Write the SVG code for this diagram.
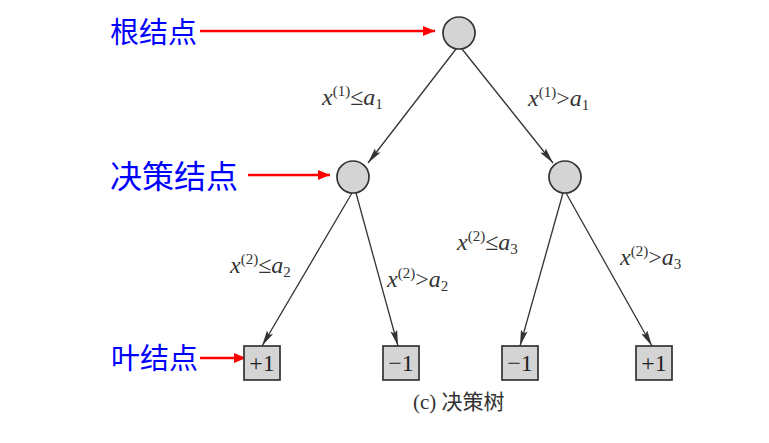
<svg xmlns="http://www.w3.org/2000/svg" width="769" height="443" viewBox="0 0 769 443">
<style>
.node{fill:#d4d4d4;stroke:#333;stroke-width:1.7}
.leaf{fill:#d4d4d4;stroke:#333;stroke-width:1.7}
.edge{stroke:#333;stroke-width:1.3;fill:none}
.red{stroke:#ff0000;stroke-width:2.5;fill:none}
.lab{font-family:"Liberation Serif","Times New Roman",serif;font-size:24px;fill:#333}
.it{font-style:italic}
.sup{font-size:15px}
.leaftxt{font-family:"Liberation Serif","Times New Roman",serif;font-size:24px;fill:#222;text-anchor:middle}
.blue{font-family:"Noto Sans CJK SC",sans-serif;font-size:29px;fill:#0000ff}
.cap{font-family:"Liberation Serif","Noto Sans CJK SC",serif;font-size:21px;fill:#333}
</style>
<defs>
<marker id="ah" viewBox="0 0 16 7" refX="16" refY="3.5" markerWidth="16" markerHeight="7" markerUnits="userSpaceOnUse" orient="auto">
<path d="M0,0 L16,3.5 L0,7 L3,3.5 Z" fill="#333"/>
</marker>
<marker id="rh" viewBox="0 0 12 10" refX="12" refY="5" markerWidth="12" markerHeight="10" markerUnits="userSpaceOnUse" orient="auto">
<path d="M0,0 L12,5 L0,10 Z" fill="#ff0000"/>
</marker>
</defs>
<rect width="769" height="443" fill="#ffffff"/>
<g id="connectors">
<line class="edge" x1="456" y1="49" x2="368" y2="163" marker-end="url(#ah)"/>
<line class="edge" x1="462" y1="49" x2="553" y2="163" marker-end="url(#ah)"/>
<line class="edge" x1="352" y1="193" x2="262" y2="346" marker-end="url(#ah)"/>
<line class="edge" x1="356" y1="193" x2="398" y2="346" marker-end="url(#ah)"/>
<line class="edge" x1="563" y1="193" x2="520" y2="346" marker-end="url(#ah)"/>
<line class="edge" x1="566" y1="193" x2="652" y2="346" marker-end="url(#ah)"/>
<line class="red" x1="200" y1="31" x2="435" y2="31" marker-end="url(#rh)"/>
<line class="red" x1="248" y1="175" x2="330" y2="175" marker-end="url(#rh)"/>
<line class="red" x1="200" y1="358" x2="246" y2="358" marker-end="url(#rh)"/>
</g>
<g id="labels">
<text class="lab" x="322" y="105"><tspan class="it">x</tspan><tspan class="sup" dy="-9">(1)</tspan><tspan dy="9">≤</tspan><tspan class="it">a</tspan><tspan class="sup" dy="4">1</tspan></text>
<text class="lab" x="528" y="106"><tspan class="it">x</tspan><tspan class="sup" dy="-9">(1)</tspan><tspan dy="9">&gt;</tspan><tspan class="it">a</tspan><tspan class="sup" dy="4">1</tspan></text>
<text class="lab" x="230" y="273"><tspan class="it">x</tspan><tspan class="sup" dy="-9">(2)</tspan><tspan dy="9">≤</tspan><tspan class="it">a</tspan><tspan class="sup" dy="4">2</tspan></text>
<text class="lab" x="387" y="287"><tspan class="it">x</tspan><tspan class="sup" dy="-9">(2)</tspan><tspan dy="9">&gt;</tspan><tspan class="it">a</tspan><tspan class="sup" dy="4">2</tspan></text>
<text class="lab" x="457" y="250"><tspan class="it">x</tspan><tspan class="sup" dy="-9">(2)</tspan><tspan dy="9">≤</tspan><tspan class="it">a</tspan><tspan class="sup" dy="4">3</tspan></text>
<text class="lab" x="620" y="265"><tspan class="it">x</tspan><tspan class="sup" dy="-9">(2)</tspan><tspan dy="9">&gt;</tspan><tspan class="it">a</tspan><tspan class="sup" dy="4">3</tspan></text>
</g>
<g id="root"><circle class="node" cx="459" cy="33" r="16"/></g>
<g id="decision-left"><circle class="node" cx="353" cy="177" r="16"/></g>
<g id="decision-right"><circle class="node" cx="565" cy="177" r="16"/></g>
<g id="leaf1"><rect class="leaf" x="244" y="346" width="36" height="34"/><text class="leaftxt" x="262" y="371">+1</text></g>
<g id="leaf2"><rect class="leaf" x="383" y="346" width="36" height="34"/><text class="leaftxt" x="401" y="371">−1</text></g>
<g id="leaf3"><rect class="leaf" x="502" y="346" width="36" height="34"/><text class="leaftxt" x="520" y="371">−1</text></g>
<g id="leaf4"><rect class="leaf" x="636" y="346" width="36" height="34"/><text class="leaftxt" x="654" y="371">+1</text></g>
<g id="annotations">
<text class="blue" x="110" y="43">根结点</text>
<text class="blue" x="110" y="188" style="font-size:32px">决策结点</text>
<text class="blue" x="111" y="369">叶结点</text>
</g>
<g id="caption"><text class="cap" x="413" y="409">(c) 决策树</text></g>
</svg>
